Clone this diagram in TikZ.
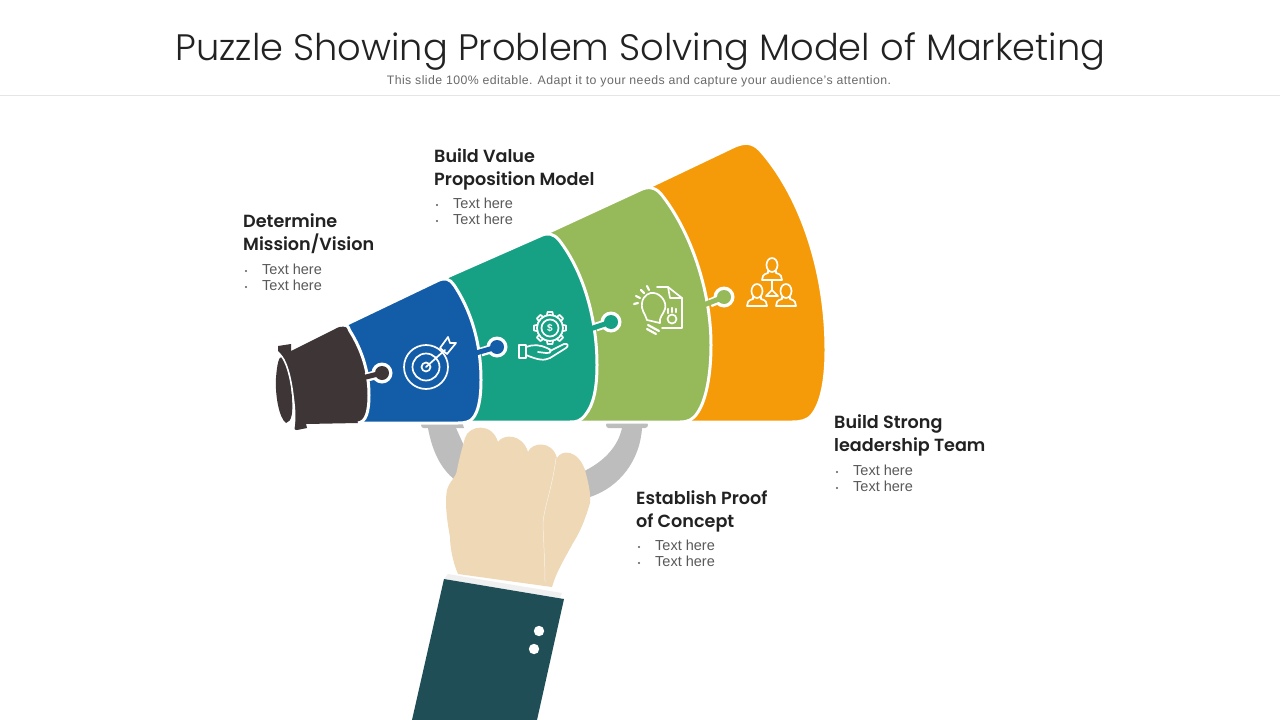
\documentclass[tikz,border=0pt]{standalone}
\usepackage{fontspec}
\setmainfont{Liberation Sans}
\newfontfamily\titlefont[UprightFont=* Light]{Poppins}
\newfontfamily\headfont[UprightFont=* SemiBold]{Poppins}
\definecolor{cdark}{HTML}{3E3537}
\definecolor{cblue}{HTML}{135DA8}
\definecolor{cteal}{HTML}{17A184}
\definecolor{cgreen}{HTML}{96B959}
\definecolor{corange}{HTML}{F59B09}
\definecolor{cskin}{HTML}{EED8B6}
\definecolor{csleeve}{HTML}{1F4E57}
\definecolor{cgrey}{HTML}{BDBDBD}
\definecolor{ctxt}{HTML}{222222}
\definecolor{cbody}{HTML}{595959}
\tikzset{
 seg/.style={draw=white,line width=3pt,line join=round},
 icon/.style={draw=white,line width=1.7pt,line join=round,line cap=round},
 headtxt/.style={anchor=north west,inner sep=0pt,align=left,text=ctxt,font=\headfont\fontsize{17.6}{23}\selectfont},
 bodytxt/.style={anchor=north west,inner sep=0pt,align=left,text=cbody,font=\fontsize{14.5}{16}\selectfont},
 bullet/.style={circle,fill=cbody,inner sep=0pt,minimum size=2.4pt}
}
\newcommand{\puzzleknob}[4]{% colour, start, inner, centre
 \draw[white,line width=9pt] #2 -- #4;
 \fill[white] #4 circle (10.5pt);
 \draw[#1,line width=5pt] #3 -- #4;
 \fill[#1] #4 circle (7pt);
}
\newcommand{\person}[2]{%
 \draw[icon] (#1,#2) ellipse (5.5pt and 7pt);
 \draw[icon] (#1-4,#2+6) -- (#1-4,#2+8) .. controls (#1-9,#2+9) and (#1-10,#2+12) .. (#1-10,#2+15) -- (#1+10,#2+15) .. controls (#1+10,#2+12) and (#1+9,#2+9) .. (#1+4,#2+8) -- (#1+4,#2+6);
}
\newcommand{\textblock}[5]{% name, x, y-head, heading, y-bullets
 \node[headtxt] (#1h) at (#2,#3) {#4};
 \node[bodytxt] (#1b) at (#2+19,#5) {Text here\\Text here};
 \node[bullet] (#1d1) at (#2+3,#5+7) {};
 \node[bullet] (#1d2) at (#2+3,#5+23) {};
}
\begin{document}
\begin{tikzpicture}[x=1pt,y=-1pt]
\useasboundingbox (0,0) rectangle (1280,720);
\fill[white] (0,0) rectangle (1280,720);
\node[inner sep=0pt,text=ctxt,font=\titlefont\fontsize{36.8}{40}\selectfont] (title) at (640.5,51.5) {Puzzle Showing Problem Solving Model of Marketing};
\node[inner sep=0pt,text=cbody!90,font=\addfontfeature{LetterSpace=3.5}\fontsize{12.3}{14}\selectfont] (sub) at (639,81) {This slide 100\% editable. Adapt it to your needs and capture your audience’s attention.};
\draw[black!10,line width=.8pt] (0,95.5) -- (1280,95.5);

% handle
\fill[cgrey] (421,425) .. controls (421,422) and (423,422) .. (425,422) -- (462,422) -- (464,428) -- (424,428) .. controls (422,428) and (421,427) .. (421,425) -- cycle;
\fill[cgrey] (606,425) .. controls (606,423) and (607,422) .. (609,422) -- (645,422) .. controls (649,422) and (649,428) .. (645,428) -- (609,428) .. controls (607,428) and (606,427) .. (606,425) -- cycle;
\fill[cgrey] (428,428) .. controls (432,450) and (440,468) .. (455,480) -- (475,470) -- (465,448) -- (456,428) -- cycle;
\fill[cgrey] (642,428) .. controls (640,460) and (620,487) .. (590,497) -- (580,473) .. controls (603,463) and (618,447) .. (622,428) -- cycle;

% orange
\path[seg,fill=corange] (651,186) -- (735,146) .. controls (745,142) and (752,142) .. (760,150) .. controls (800,195) and (826,270) .. (826,350) .. controls (826,385) and (820,405) .. (812,415) .. controls (807,421) and (800,422) .. (792,422) -- (680,422) -- (640,300) -- cycle;
% green
\path[seg,fill=cgreen] (549,232) -- (640,190) .. controls (648,186) and (655,187) .. (661,194) .. controls (690,230) and (711,290) .. (711,345) .. controls (711,375) and (706,400) .. (698,412) .. controls (693,420) and (688,422) .. (680,422) -- (560,422) -- (530,300) -- cycle;
\puzzleknob{cgreen}{(710,303)}{(705,304.5)}{(724,297)}
% teal
\path[seg,fill=cteal] (447,277) -- (540,236) .. controls (548,232) and (554,234) .. (559,240) .. controls (584,272) and (597,320) .. (597,365) .. controls (597,390) and (593,405) .. (586,414) .. controls (581,421) and (577,422) .. (570,422) -- (460,422) -- (430,300) -- cycle;
\puzzleknob{cteal}{(596,327)}{(590,329)}{(611,322)}
% blue
\path[seg,fill=cblue] (345,325) -- (437,281) .. controls (445,277) and (450,279) .. (454,285) .. controls (472,312) and (481,345) .. (481,380) .. controls (481,400) and (478,412) .. (473,418) .. controls (470,422) and (465,423) .. (458,423) -- (320,423) -- (320,340) -- cycle;
\puzzleknob{cblue}{(481,352)}{(476,353)}{(497,347)}
% dark body with rim
\fill[cdark] (278,346) -- (291,344) -- (291,351) -- (335,329) .. controls (342,325) and (346,326) .. (350,331) .. controls (362,350) and (369,372) .. (369,395) .. controls (369,412) and (366,422) .. (358,423) -- (306,424) -- (307,428) -- (297,430) .. controls (294,430) and (294,428) .. (295,426) .. controls (296,410) and (292,380) .. (285,362) .. controls (283,357) and (281,353) .. (278,351) -- cycle;
\draw[white,line width=3pt] (345,325) .. controls (348,325) and (349,329) .. (350,331) .. controls (362,350) and (369,372) .. (369,395) .. controls (369,412) and (366,422) .. (358,423);
\puzzleknob{cdark}{(366,377.5)}{(362,378)}{(382,373)}
% mouth
\fill[cdark] (286,423) .. controls (279,418) and (275,395) .. (276,378) .. controls (277,364) and (279,356) .. (282,357) .. controls (287,362) and (291,380) .. (292,398) .. controls (293,412) and (292,422) .. (286,423) -- cycle;
\draw[white,line width=1.6pt] (279,354) .. controls (286,358) and (291,378) .. (293,396) .. controls (295,410) and (295,420) .. (294,425);

% arm and hand
\fill[black!6] (448,574) -- (444,579) -- (560,598) -- (562,593) -- cycle;
\fill[csleeve] (444,579) -- (564,599) -- (537,720) -- (412,720) -- cycle;
\fill[white] (539,631) circle (5.2pt);
\fill[white] (534,649) circle (5.2pt);
\fill[cskin] (458,574) .. controls (452,560) and (450,545) .. (450,537) .. controls (446,515) and (445,500) .. (447,490) .. controls (450,480) and (456,478) .. (457,470) .. controls (460,455) and (463,445) .. (465,438) .. controls (469,425) and (492,422) .. (498,442) .. controls (503,434) and (522,433) .. (528,452) .. controls (532,442) and (552,440) .. (557,458) .. controls (562,449) and (578,450) .. (585,470) .. controls (589,485) and (591,495) .. (590,503) .. controls (585,520) and (580,532) .. (573,543) .. controls (565,558) and (557,570) .. (552,587) -- cycle;
\draw[white!70!cskin,line width=.5pt] (556,458) .. controls (552,490) and (543,510) .. (543,525) .. controls (544,550) and (545,565) .. (545,582);

% target icon
\draw[icon] (426,367) circle (22pt) (426,367) circle (13.5pt) (426,367) circle (4.5pt);
\draw[icon] (426,367) -- (445,350);
\draw[icon] (440,348) -- (448,337) -- (450,343) -- (456,343) -- (447,354) -- cycle;

% gear and hand icon
\foreach \a in {0,45,...,315}{
 \draw[icon,rotate around={\a:(550,328)}] (547,315) -- (547.5,312) -- (552.5,312) -- (553,315);
}
\draw[icon,fill=cteal] (550,328) circle (13pt);
\draw[icon] (550,328) circle (8.5pt);
\node[inner sep=0pt,text=white,font=\bfseries\fontsize{10}{10}\selectfont] (dollar) at (550,328) {\$};
\draw[icon] (519,345) rectangle (526,358);
\draw[icon] (526,347) .. controls (533,344) and (541,345) .. (547,348) .. controls (552,349) and (552,354) .. (546,353) -- (538,352);
\draw[icon] (550,351) -- (564,344) .. controls (568,343) and (569,346) .. (566,348) -- (550,358) .. controls (544,361) and (538,360) .. (526,355);

% bulb and document icon
\draw[icon] (657,287) -- (668,287) -- (682,298) -- (682,328) -- (662,328);
\draw[icon] (668,287) -- (670,298) -- (682,298);
\draw[icon] (647,320) .. controls (645,313) and (641,311) .. (642,303) .. controls (643,295) and (650,292) .. (654,293) .. controls (661,294) and (667,302) .. (665,309) .. controls (663,315) and (659,317) .. (660,323) -- cycle;
\draw[icon,line width=2.2pt] (648,325) -- (659,331) (647,329) -- (656,334);
\draw[icon,line width=2.2pt] (634,304) -- (638,303) (636,296) -- (640,298) (641,290) -- (644,293) (647,286) -- (649,290);
\draw[icon] (672,319) circle (4.5pt);
\draw[icon,line width=2.2pt] (668,309) -- (668,313) (672,308) -- (672,312) (676,309) -- (676,312);

% people icon
\person{772}{265}
\person{757}{291}
\person{786}{291}
\draw[icon] (772,280) -- (772,290) (766,296) -- (772,290) -- (778,296) -- cycle;

% text blocks
\textblock{a}{243}{213.5}{Determine\\Mission/Vision}{264}
\textblock{b}{434}{148.5}{Build Value\\Proposition Model}{198}
\textblock{c}{636}{490.5}{Establish Proof\\of Concept}{540}
\textblock{d}{834}{414.5}{Build Strong\\leadership Team}{465}
\end{tikzpicture}
\end{document}
